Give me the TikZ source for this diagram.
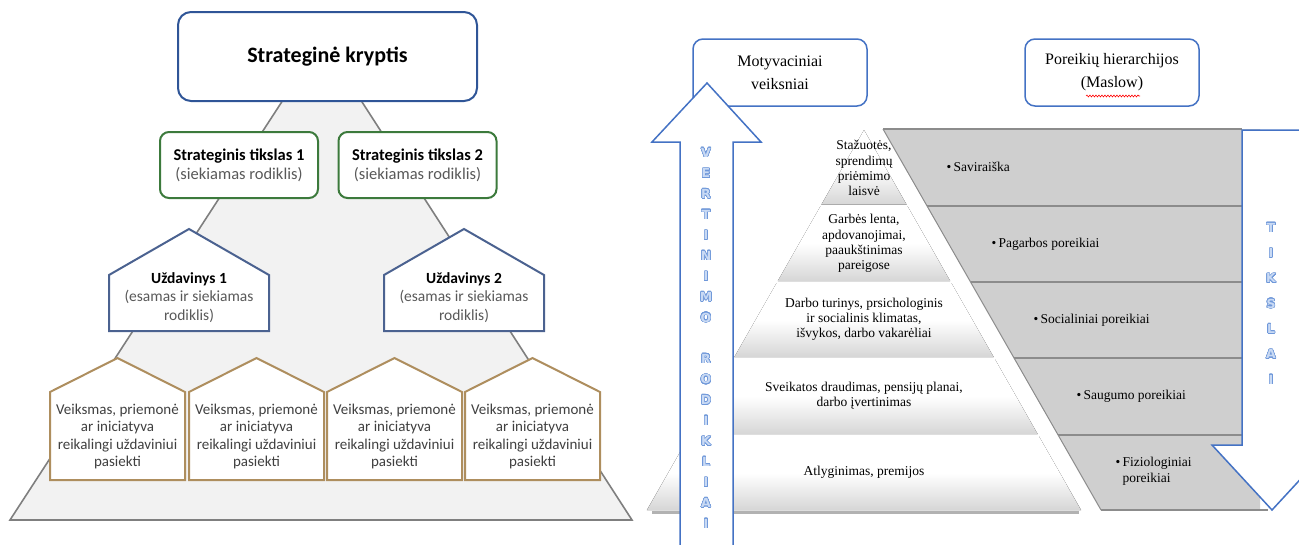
\documentclass[tikz,border=0pt]{standalone}
\usepackage{fontspec}
\usepackage{contour}
\setmainfont{Liberation Serif}
\newfontfamily\calfont{Carlito}
\newfontfamily\letfont{DejaVu Sans}
\usetikzlibrary{decorations.pathmorphing,calc}
\definecolor{topblue}{HTML}{2F5597}
\definecolor{goalgreen}{HTML}{3C7A3C}
\definecolor{taskblue}{HTML}{4B6290}
\definecolor{acttan}{HTML}{AE8E5E}
\definecolor{trigray}{HTML}{7F7F7F}
\definecolor{trifill}{HTML}{F2F2F2}
\definecolor{textgray}{HTML}{595959}
\definecolor{darktext}{HTML}{404040}
\definecolor{arrowblue}{HTML}{4472C4}
\definecolor{needfill}{HTML}{CFCFCF}
\definecolor{divgray}{HTML}{8C8C8C}
\definecolor{layergray}{HTML}{D6D6D6}
\definecolor{letterfill}{HTML}{C9DAF4}
\definecolor{letteredge}{HTML}{6F98DA}
\contourlength{0.55pt}
\contournumber{24}
\newcommand{\outlet}[1]{\contour{letteredge}{\textcolor{letterfill}{#1}}}
\begin{document}
\begin{tikzpicture}[x=1pt,y=-1pt,
  tri/.style={fill=trifill, draw=trigray, line width=1.6},
  topbox/.style={draw=topblue, line width=2, rounded corners=13, fill=white, minimum width=299, minimum height=89, font=\calfont\bfseries\fontsize{22}{26}\selectfont},
  goalbox/.style={draw=goalgreen, line width=2, rounded corners=9, fill=white, minimum width=158, minimum height=66, align=center, font=\calfont\fontsize{16.5}{19}\selectfont},
  taskhouse/.style={draw=taskblue, line width=2, fill=white},
  acthouse/.style={draw=acttan, line width=2, fill=white},
  tasktext/.style={align=center, font=\calfont\fontsize{15.5}{18.5}\selectfont, text=textgray},
  acttext/.style={align=center, font=\calfont\fontsize{15}{17.6}\selectfont, text=darktext},
  hdrbox/.style={draw=arrowblue, line width=1.5, rounded corners=10, fill=white, minimum width=174, minimum height=67, align=center, font=\fontsize{16}{23}\selectfont},
  bigarrow/.style={draw=arrowblue, line width=1.5, fill=white},
  arrowletter/.style={font=\letfont\bfseries\fontsize{12.5}{14}\selectfont, inner sep=0},
  needrow/.style={draw=divgray, line width=1.5},
  needtext/.style={anchor=west, font=\fontsize{13.5}{16}\selectfont, align=left},
  layertext/.style={align=center, font=\fontsize{13.5}{15.2}\selectfont},
  layer/.style={top color=white, bottom color=layergray, middle color=white, draw=none}
]
\useasboundingbox (0,0) rectangle (1299,544);
\clip (0,0) rectangle (1299,544);

% ---------------- left panel ----------------
\draw[tri] (322,40) -- (10,520) -- (632,520) -- cycle;

\node[topbox] (sk) at (327.5,56.5) {Strateginė kryptis};

\node[goalbox] (g1) at (239,165) {{\bfseries Strateginis tikslas 1}\\{\color{textgray}(siekiamas rodiklis)}};
\node[goalbox] (g2) at (417.5,165) {{\bfseries Strateginis tikslas 2}\\{\color{textgray}(siekiamas rodiklis)}};

\foreach \xl/\n in {109/1,384/2} {
  \draw[taskhouse] (\xl,331) -- (\xl,275) -- (\xl+80,229) -- (\xl+160,275) -- (\xl+160,331) -- cycle;
  \node[tasktext] (u\n) at (\xl+80,297.5) {{\bfseries\color{black}Uždavinys \n}\\(esamas ir siekiamas\\rodiklis)};
}

\foreach \xl [count=\i] in {50,189,327,465} {
  \draw[acthouse] (\xl,480) -- (\xl,392) -- (\xl+67.5,358) -- (\xl+135,392) -- (\xl+135,480) -- cycle;
  \node[acttext] (act\i) at (\xl+67.5,436.5) {Veiksmas, priemonė\\ar iniciatyva\\reikalingi uždaviniui\\pasiekti};
}

% ---------------- right panel ----------------
% needs (Maslow) band
\fill[needfill] (883,129) -- (1260,129) -- (1260,510) -- (1101,510) -- cycle;
\draw[divgray, line width=1] (883,129) -- (1101,510);
\draw[needrow] (883,129) -- (1242,129);
\draw[needrow] (927,206) -- (1242,206);
\draw[needrow] (970.5,282) -- (1242,282);
\draw[needrow] (1014,358) -- (1242,358);
\draw[needrow] (1058,435) -- (1242,435);
\draw[needrow] (1101,510) -- (1268,510);

\node[needtext] (n1) at (943,167) {•\,Saviraiška};
\node[needtext] (n2) at (988,244) {•\,Pagarbos poreikiai};
\node[needtext] (n3) at (1030,320) {•\,Socialiniai poreikiai};
\node[needtext] (n4) at (1073,396) {•\,Saugumo poreikiai};
\node[needtext] (n5) at (1112,471) {•\,Fiziologiniai\\\phantom{•\,}poreikiai};

% motivation pyramid
\draw[gray!60, line width=3] (652,512.5) -- (1079,512.5);
\foreach \ya/\yb in {130/204.5,206/281,283/357,359/434,436/510} {
  \fill[layer] ({864-0.5711*(\ya-130)},\ya) -- ({864+0.5711*(\ya-130)},\ya) -- ({864+0.5711*(\yb-130)},\yb) -- ({864-0.5711*(\yb-130)},\yb) -- cycle;
}
\node[layertext] (p1) at (864,168) {Stažuotės,\\sprendimų\\priėmimo\\laisvė};
\node[layertext] (p2) at (864,243.5) {Garbės lenta,\\apdovanojimai,\\paaukštinimas\\pareigose};
\node[layertext] (p3) at (864,319.5) {Darbo turinys, prsichologinis\\ir socialinis klimatas,\\išvykos, darbo vakarėliai};
\node[layertext] (p4) at (864,395.5) {Sveikatos draudimas, pensijų planai,\\darbo įvertinimas};
\node[layertext] (p5) at (864,472) {Atlyginimas, premijos};

% header boxes
\node[hdrbox] (h1) at (780,72.5) {Motyvaciniai\\veiksniai};
\node[hdrbox] (h2) at (1112,72.5) {Poreikių hierarchijos\\(Maslow)};
\draw[red, line width=0.6, decorate, decoration={snake, amplitude=0.9, segment length=3}] (1086,96) -- (1140,96);

% up arrow
\draw[bigarrow] (680,550) -- (680,142) -- (652,142) -- (707,83) -- (761,142) -- (733,142) -- (733,550);
\foreach \l/\k in {V/0,E/1,R/2,T/3,I/4,N/5,I/6,M/7,O/8,R/10,O/11,D/12,I/13,K/14,L/15,I/16,A/17,I/18} {
  \node[arrowletter] (vl\k) at (706,{153+20.6*\k}) {\outlet{\l}};
}

% down arrow
\draw[bigarrow] (1242,130) -- (1242,445) -- (1212,445) -- (1272,510) -- (1332,445) -- (1302,445) -- (1302,130) -- cycle;
\foreach \l [count=\k] in {T,I,K,S,L,A,I} {
  \node[arrowletter] (tl\k) at (1271,{228+25.3*(\k-1)}) {\outlet{\l}};
}
\end{tikzpicture}
\end{document}
